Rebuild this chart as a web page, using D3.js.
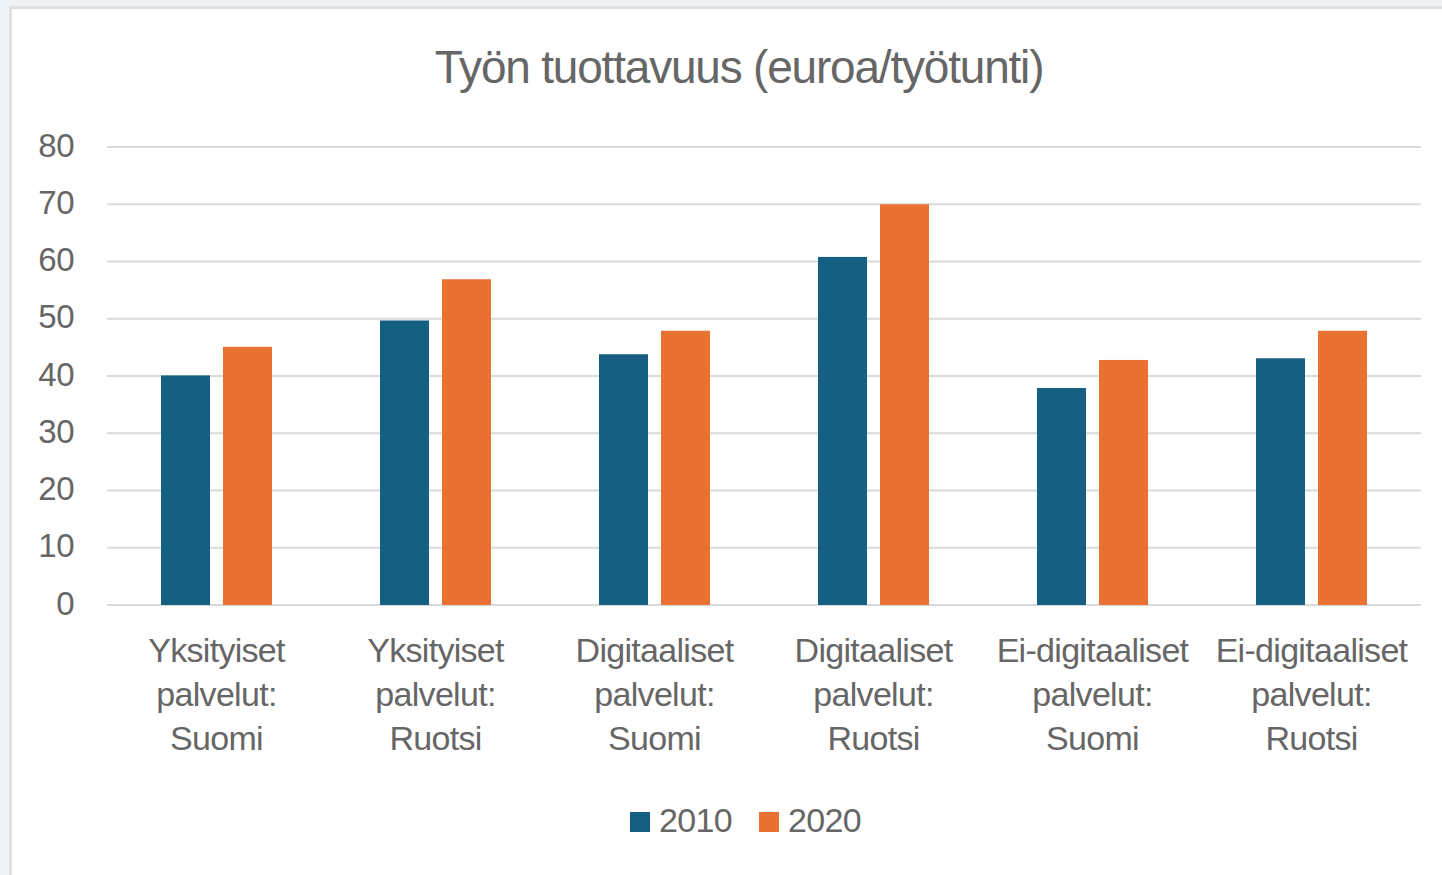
<!DOCTYPE html>
<html>
<head>
<meta charset="utf-8">
<script src="https://cdn.jsdelivr.net/npm/d3@7"></script>
<style>
  body { margin:0; background:#eef3f8; }
  svg { display:block; }
  text { font-family:"Liberation Sans", Arial, sans-serif; fill:#666; }
</style>
</head>
<body>
<script>
let categories = [
  ["Yksityiset","palvelut:","Suomi"],
  ["Yksityiset","palvelut:","Ruotsi"],
  ["Digitaaliset","palvelut:","Suomi"],
  ["Digitaaliset","palvelut:","Ruotsi"],
  ["Ei-digitaaliset","palvelut:","Suomi"],
  ["Ei-digitaaliset","palvelut:","Ruotsi"]
];
let series = ["2010","2020"];
let values2010 = [40.1, 49.7, 43.8, 60.8, 37.9, 43.1];
let values2020 = [45.1, 56.9, 47.9, 70.0, 42.8, 47.9];
let yTicks = [0,10,20,30,40,50,60,70,80];
let colors = ["#156082","#e97132"];

let width = 1442, height = 875;
let margin = {left:107, right:21, top:147, bottom:270};

let svg = d3.select("body").append("svg").attr("width",width).attr("height",height)

// chart panel
svg.append("rect")
  .attr("x",10.5).attr("y",7.5)
  .attr("width",width).attr("height",height)
  .attr("fill","#fff").attr("stroke","#e0e0e0").attr("stroke-width",3)

let x0 = d3.scaleBand().domain(d3.range(categories.length))
  .range([margin.left, width-margin.right]).paddingInner(0).paddingOuter(0)
let y = d3.scaleLinear().domain([0,80]).range([height-margin.bottom, margin.top])

// gridlines
svg.append("g").selectAll("line")
  .data(yTicks)
  .enter().append("line")
    .attr("x1",margin.left).attr("x2",width-margin.right)
    .attr("y1",d=>y(d)).attr("y2",d=>y(d))
    .attr("stroke","#d9d9d9").attr("stroke-width",2)

// y labels
svg.append("g").selectAll("text")
  .data(yTicks)
  .enter().append("text")
    .attr("x",74).attr("y",d=>y(d)-2)
    .attr("text-anchor","end")
    .attr("dominant-baseline","central")
    .attr("font-size",33).attr("letter-spacing",-0.5)
    .text(d=>d)

let barW = 49, barGap = 13;
let data = categories.map((c,i)=>[values2010[i], values2020[i]])

let groups = svg.append("g").selectAll("g")
  .data(data)
  .enter().append("g")
    .attr("transform",(d,i)=>"translate("+(x0(i)+x0.bandwidth()/2)+",0)")

groups.selectAll("rect")
  .data(d=>d)
  .enter().append("rect")
    .attr("x",(d,i)=> i==0 ? -barGap/2-barW : barGap/2)
    .attr("y",d=>y(d))
    .attr("width",barW)
    .attr("height",d=>y(0)-y(d))
    .attr("fill",(d,i)=>colors[i])

// category labels
let labels = svg.append("g").selectAll("text")
  .data(categories)
  .enter().append("text")
    .attr("x",(d,i)=>x0(i)+x0.bandwidth()/2)
    .attr("y",650)
    .attr("text-anchor","middle")
    .attr("font-size",34).attr("letter-spacing",-0.7)

labels.selectAll("tspan")
  .data(d=>d)
  .enter().append("tspan")
    .attr("x",function(){ return this.parentNode.getAttribute("x") })
    .attr("dy",(d,i)=> i==0 ? "0.35em" : 44)
    .text(d=>d)

// title
svg.append("text")
  .attr("x",739).attr("y",67)
  .attr("text-anchor","middle")
  .attr("dominant-baseline","central")
  .attr("font-size",46).attr("letter-spacing",-1.2)
  .text("Työn tuottavuus (euroa/työtunti)")

// legend
let legend = svg.append("g").selectAll("g")
  .data(series)
  .enter().append("g")
    .attr("transform",(d,i)=>"translate("+(630+i*129)+",812)")

legend.append("rect")
  .attr("width",20).attr("height",20)
  .attr("fill",(d,i)=>colors[i])

legend.append("text")
  .attr("x",29).attr("y",8)
  .attr("dominant-baseline","central")
  .attr("font-size",34).attr("letter-spacing",-0.7)
  .text(d=>d)
</script>
</body>
</html>
